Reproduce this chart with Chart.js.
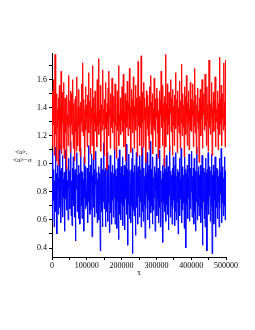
<!DOCTYPE html>
<html>
<head>
<meta charset="utf-8">
<script src="https://cdn.jsdelivr.net/npm/chart.js@4/dist/chart.umd.min.js"></script>
<style>html,body{margin:0;padding:0;background:#fff;}canvas{display:block;}</style>
</head>
<body>
<canvas id="c" width="255" height="330"></canvas>
<script>
const tauStep = 1250;
const meanA = [
152,112,146,128,160,106,138,178,121,144,102,150,126,139,99,147,131,156,110,142,
124,166,107,143,129,151,111,158,104,137,147,122,139,96,149,128,135,113,163,126,
131,145,108,152,128,150,121,144,160,111,143,130,102,146,123,148,109,162,132,113,
140,127,153,109,141,105,144,129,157,123,138,172,120,146,131,100,139,155,124,142,
133,112,149,128,165,122,137,145,107,154,128,140,113,170,132,147,103,136,129,152,
123,141,133,112,160,127,144,175,121,138,130,156,109,142,135,124,149,167,128,139,
106,146,131,158,125,137,96,143,129,154,120,166,134,140,111,150,126,138,161,122,
145,130,148,110,136,157,127,141,104,133,152,124,144,170,113,135,128,147,121,139,
131,155,123,142,164,112,137,129,150,102,134,145,126,159,132,120,143,136,168,125,
140,108,138,153,128,146,122,162,133,111,141,130,156,124,147,135,105,144,173,127,
139,148,113,145,126,177,106,151,129,143,112,158,131,147,122,140,101,152,134,125,
149,120,141,110,155,128,137,163,121,144,131,150,107,139,127,161,124,146,112,142,
133,154,122,147,104,138,129,152,111,145,135,166,126,141,113,156,130,143,98,148,
124,178,112,143,132,157,121,139,128,151,109,144,136,160,123,147,130,106,153,127,
141,113,149,131,165,125,138,146,108,152,127,140,122,159,133,111,145,129,171,120,
137,150,126,142,105,155,130,148,121,163,134,113,143,128,152,110,139,131,158,124,
146,123,140,134,157,112,145,127,168,122,136,149,107,142,130,154,125,138,101,147,
129,153,120,144,132,160,111,141,135,150,124,139,164,127,146,113,155,131,142,109,
138,174,126,148,121,143,133,158,106,140,129,151,123,145,136,162,112,147,130,139,
125,152,110,143,134,176,121,146,128,156,113,139,132,150,124,172,127,144,112,174,
148];
const meanMinusSigma = [
92,60,109,74,96,55,88,72,112,66,93,50,87,99,64,90,81,114,69,95,
58,85,97,71,106,62,89,76,94,52,91,110,75,98,67,88,79,60,104,83,
95,68,90,116,63,88,56,97,74,105,70,93,62,96,45,90,82,108,66,92,
78,99,61,93,57,86,111,70,95,61,94,72,89,52,105,76,98,68,91,80,
70,97,58,91,113,73,94,64,99,67,88,107,48,92,77,104,69,96,62,87,
85,109,65,94,58,89,74,98,60,93,71,38,90,104,66,87,55,96,73,115,
68,95,78,55,97,66,90,108,59,92,72,99,51,88,106,65,94,57,91,74,
99,62,93,76,112,57,96,68,91,54,97,73,104,46,88,110,64,93,60,98,
72,95,105,56,92,70,99,53,98,75,89,114,64,96,42,93,71,107,61,95,
85,58,96,70,104,36,111,67,94,63,99,75,49,92,108,69,95,57,98,77,
90,62,106,73,96,55,89,112,66,94,59,97,71,91,47,104,68,93,78,108,
60,95,74,99,54,88,116,65,96,70,93,57,105,67,90,76,98,52,94,81,
107,63,92,75,97,58,91,69,110,55,95,73,89,61,99,44,93,72,104,66,
88,96,59,106,71,94,64,98,53,90,77,113,62,95,70,92,57,97,68,105,
74,93,56,99,66,108,60,91,73,96,50,94,69,104,63,89,75,111,58,95,
67,98,72,92,54,105,65,96,40,93,71,99,61,90,76,107,59,94,68,97,
80,109,62,91,74,97,57,104,66,95,52,89,73,112,60,94,70,98,63,92,
76,99,58,95,68,106,42,91,73,97,61,94,55,104,67,93,38,96,71,108,
64,90,77,98,59,95,70,107,36,92,66,99,57,94,74,105,48,89,69,97,
61,96,73,91,55,104,68,94,79,111,58,93,72,98,63,90,70,105,60,95,
88];
const xTickValues = [0,50000,100000,150000,200000,250000,300000,350000,400000,450000,500000];
const xLabelValues = [0,100000,200000,300000,400000,500000];
const yTickValues = [0.4,0.5,0.6,0.7,0.8,0.9,1.0,1.1,1.2,1.3,1.4,1.5,1.6,1.7];
const yLabelValues = [0.4,0.6,0.8,1.0,1.2,1.4,1.6];
const yTitleLines = ['<a>,', '<a>\u2212\u03c3'];
const xTitle = '\u03c4';

const FONT = 'Liberation Serif';
const toPts = arr => arr.map((v,i)=>({x:i*tauStep, y:v/100}));

const titlePlugin = {
  id:'titles',
  afterDraw(chart){
    const c = chart.ctx;
    c.save();
    c.fillStyle = '#000';
    c.font = '7px "' + FONT + '"';
    c.textBaseline = 'middle';
    c.textAlign = 'left';
    c.fillText(yTitleLines[0], 15, 152);
    c.fillText(yTitleLines[1], 13, 160);
    c.textAlign = 'center';
    c.font = '9px "' + FONT + '"';
    const xs = chart.scales.x;
    c.fillText(xTitle, (xs.left+xs.right)/2, 273);
    c.restore();
  }
};

new Chart(document.getElementById('c'), {
  type:'line',
  data:{datasets:[
    {label:'<a>', data:toPts(meanA), borderColor:'#ff0000', borderWidth:1, pointRadius:0, tension:0, fill:false},
    {label:'<a>-σ', data:toPts(meanMinusSigma), borderColor:'#0000ff', borderWidth:1, pointRadius:0, tension:0, fill:false}
  ]},
  options:{
    animation:false, responsive:false, devicePixelRatio:1,
    layout:{padding:{left:0,right:29,top:53,bottom:0}},
    plugins:{legend:{display:false}, tooltip:{enabled:false}},
    scales:{
      x:{type:'linear', min:0, max:500000,
        afterFit(s){ s.height = 73; },
        afterBuildTicks(s){ s.ticks = xTickValues.map(v=>({value:v})); },
        ticks:{autoSkip:false, maxRotation:0, minRotation:0, padding:1, color:'#000',
          font:{family:FONT, size:8},
          callback:v => xLabelValues.includes(v) ? String(v) : ''},
        grid:{drawOnChartArea:false, drawTicks:true, tickLength:3, color:'#000', lineWidth:1},
        border:{display:true, color:'#000', width:1}
      },
      y:{type:'linear', min:0.336, max:1.79,
        afterFit(s){ s.width = 52; },
        afterBuildTicks(s){ s.ticks = yTickValues.map(v=>({value:v})); },
        ticks:{autoSkip:false, padding:2, color:'#000',
          font:{family:FONT, size:8},
          callback:v => yLabelValues.some(l=>Math.abs(l-v)<1e-6) ? v.toFixed(1) : ''},
        grid:{drawOnChartArea:false, drawTicks:true, tickLength:3, color:'#000', lineWidth:1},
        border:{display:true, color:'#000', width:1}
      }
    }
  },
  plugins:[titlePlugin]
});
</script>
</body>
</html>
